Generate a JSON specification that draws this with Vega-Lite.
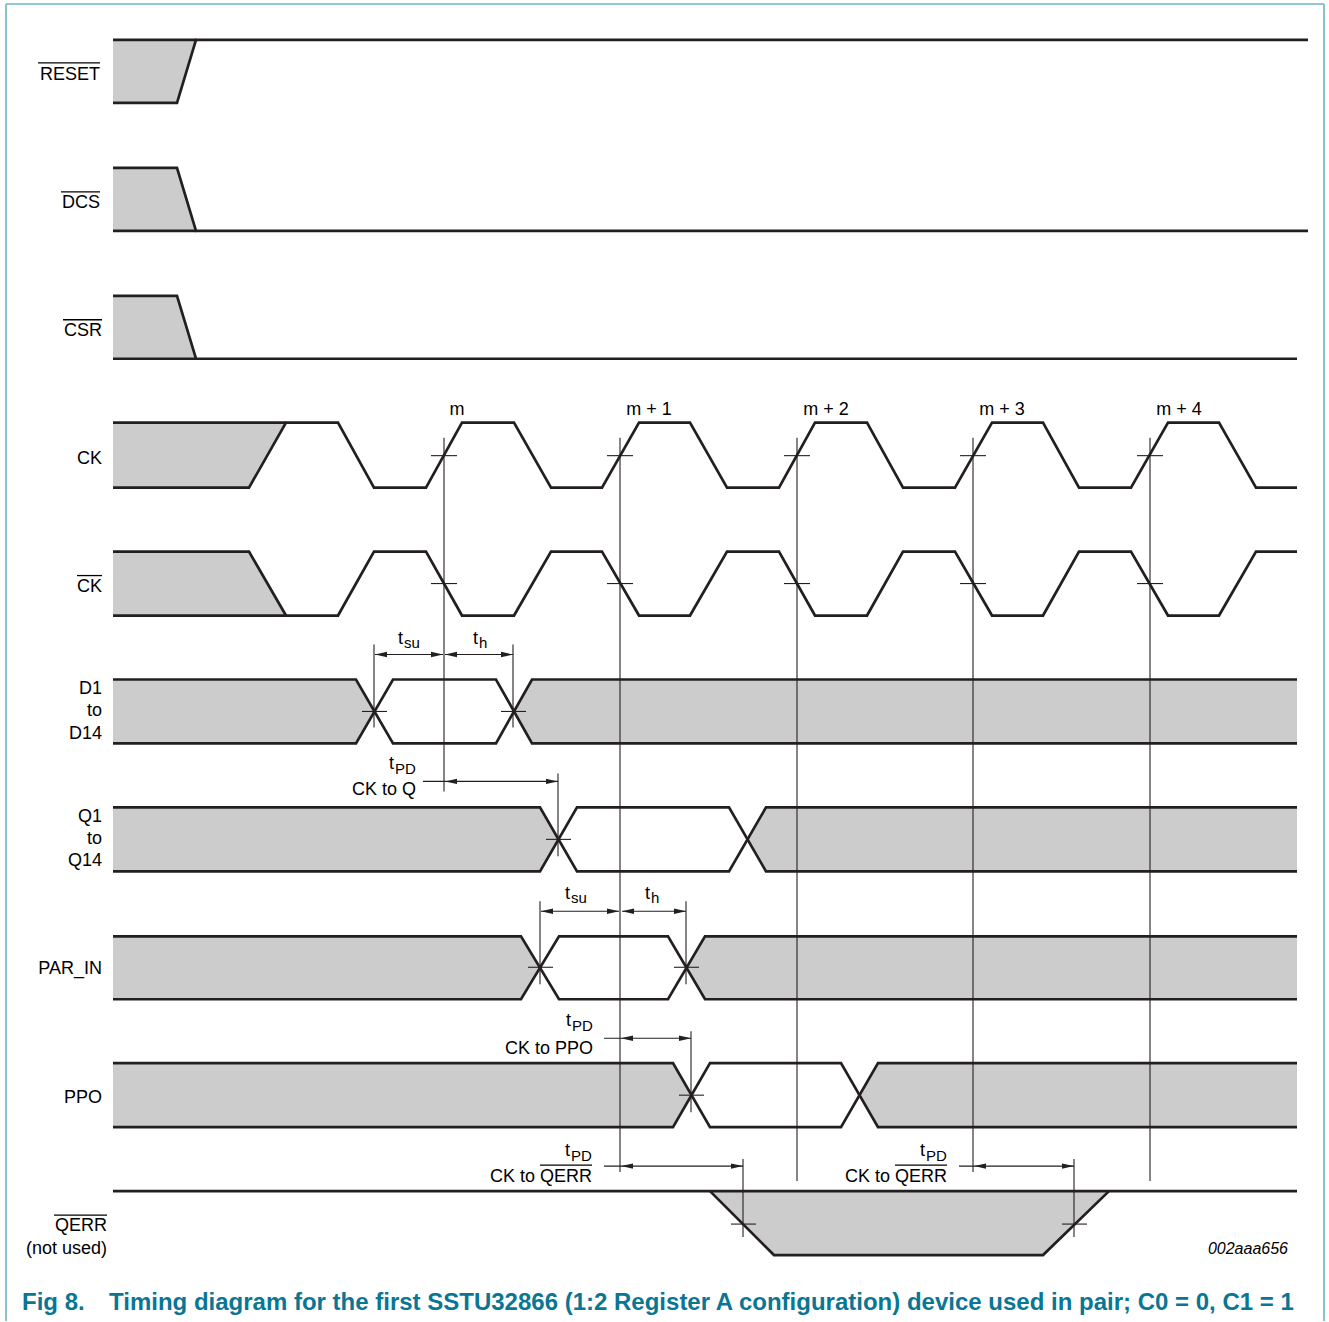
{
  "$schema": "https://vega.github.io/schema/vega-lite/v6.json",
  "width": 1329,
  "height": 1322,
  "padding": 0,
  "autosize": {"type": "fit", "contains": "padding"},
  "background": "white",
  "config": {"view": {"stroke": null}, "text": {"font": "Liberation Sans", "color": "#000000"}},
  "datasets": {
    "areas": [
      {"s": "reset", "x": 113, "y": 40, "y2": 103}, {"s": "reset", "x": 177, "y": 40, "y2": 103}, {"s": "reset", "x": 196, "y": 40, "y2": 40},
      {"s": "dcs", "x": 113, "y": 168, "y2": 231}, {"s": "dcs", "x": 177, "y": 168, "y2": 231}, {"s": "dcs", "x": 196, "y": 231, "y2": 231},
      {"s": "csr", "x": 113, "y": 296, "y2": 359}, {"s": "csr", "x": 177, "y": 296, "y2": 359}, {"s": "csr", "x": 196, "y": 359, "y2": 359},
      {"s": "ck", "x": 113, "y": 423, "y2": 488}, {"s": "ck", "x": 249, "y": 423, "y2": 488}, {"s": "ck", "x": 286, "y": 423, "y2": 423},
      {"s": "ckb", "x": 113, "y": 552, "y2": 616}, {"s": "ckb", "x": 249, "y": 552, "y2": 616}, {"s": "ckb", "x": 286, "y": 616, "y2": 616},
      {"s": "d1", "x": 113, "y": 680, "y2": 744}, {"s": "d1", "x": 356, "y": 680, "y2": 744}, {"s": "d1", "x": 374, "y": 712, "y2": 712},
      {"s": "d2", "x": 513, "y": 712, "y2": 712}, {"s": "d2", "x": 532, "y": 680, "y2": 744}, {"s": "d2", "x": 1297, "y": 680, "y2": 744},
      {"s": "q1", "x": 113, "y": 808, "y2": 872}, {"s": "q1", "x": 540, "y": 808, "y2": 872}, {"s": "q1", "x": 558, "y": 840, "y2": 840},
      {"s": "q2", "x": 748, "y": 840, "y2": 840}, {"s": "q2", "x": 766, "y": 808, "y2": 872}, {"s": "q2", "x": 1297, "y": 808, "y2": 872},
      {"s": "p1", "x": 113, "y": 937, "y2": 1000}, {"s": "p1", "x": 521, "y": 937, "y2": 1000}, {"s": "p1", "x": 540, "y": 968, "y2": 968},
      {"s": "p2", "x": 686, "y": 968, "y2": 968}, {"s": "p2", "x": 705, "y": 937, "y2": 1000}, {"s": "p2", "x": 1297, "y": 937, "y2": 1000},
      {"s": "o1", "x": 113, "y": 1064, "y2": 1128}, {"s": "o1", "x": 673, "y": 1064, "y2": 1128}, {"s": "o1", "x": 691, "y": 1096, "y2": 1096},
      {"s": "o2", "x": 859, "y": 1096, "y2": 1096}, {"s": "o2", "x": 878, "y": 1064, "y2": 1128}, {"s": "o2", "x": 1297, "y": 1064, "y2": 1128},
      {"s": "qerr", "x": 710, "y": 1192, "y2": 1192}, {"s": "qerr", "x": 774, "y": 1192, "y2": 1256}, {"s": "qerr", "x": 1043, "y": 1192, "y2": 1256}, {"s": "qerr", "x": 1109, "y": 1192, "y2": 1192}
    ],
    "waves": [
      {"s": "reset_a", "i": 0, "x": 113, "y": 103}, {"s": "reset_a", "i": 1, "x": 177, "y": 103}, {"s": "reset_a", "i": 2, "x": 196, "y": 40}, {"s": "reset_a", "i": 3, "x": 1308, "y": 40},
      {"s": "reset_b", "i": 0, "x": 113, "y": 40}, {"s": "reset_b", "i": 1, "x": 196, "y": 40},
      {"s": "dcs_a", "i": 0, "x": 113, "y": 168}, {"s": "dcs_a", "i": 1, "x": 177, "y": 168}, {"s": "dcs_a", "i": 2, "x": 196, "y": 231}, {"s": "dcs_a", "i": 3, "x": 1308, "y": 231},
      {"s": "dcs_b", "i": 0, "x": 113, "y": 231}, {"s": "dcs_b", "i": 1, "x": 196, "y": 231},
      {"s": "csr_a", "i": 0, "x": 113, "y": 296}, {"s": "csr_a", "i": 1, "x": 177, "y": 296}, {"s": "csr_a", "i": 2, "x": 196, "y": 359}, {"s": "csr_a", "i": 3, "x": 1297, "y": 359},
      {"s": "csr_b", "i": 0, "x": 113, "y": 359}, {"s": "csr_b", "i": 1, "x": 196, "y": 359},
      {"s": "ck_a", "i": 0, "x": 113, "y": 488}, {"s": "ck_a", "i": 1, "x": 249, "y": 488}, {"s": "ck_a", "i": 2, "x": 286, "y": 423}, {"s": "ck_a", "i": 3, "x": 338, "y": 423},
      {"s": "ck_a", "i": 4, "x": 374, "y": 488}, {"s": "ck_a", "i": 5, "x": 426, "y": 488}, {"s": "ck_a", "i": 6, "x": 462, "y": 423}, {"s": "ck_a", "i": 7, "x": 514, "y": 423},
      {"s": "ck_a", "i": 8, "x": 551, "y": 488}, {"s": "ck_a", "i": 9, "x": 602, "y": 488}, {"s": "ck_a", "i": 10, "x": 639, "y": 423}, {"s": "ck_a", "i": 11, "x": 690, "y": 423},
      {"s": "ck_a", "i": 12, "x": 727, "y": 488}, {"s": "ck_a", "i": 13, "x": 779, "y": 488}, {"s": "ck_a", "i": 14, "x": 815, "y": 423}, {"s": "ck_a", "i": 15, "x": 867, "y": 423},
      {"s": "ck_a", "i": 16, "x": 903, "y": 488}, {"s": "ck_a", "i": 17, "x": 955, "y": 488}, {"s": "ck_a", "i": 18, "x": 992, "y": 423}, {"s": "ck_a", "i": 19, "x": 1043, "y": 423},
      {"s": "ck_a", "i": 20, "x": 1079, "y": 488}, {"s": "ck_a", "i": 21, "x": 1131, "y": 488}, {"s": "ck_a", "i": 22, "x": 1168, "y": 423}, {"s": "ck_a", "i": 23, "x": 1219, "y": 423},
      {"s": "ck_a", "i": 24, "x": 1256, "y": 488}, {"s": "ck_a", "i": 25, "x": 1297, "y": 488},
      {"s": "ck_b", "i": 0, "x": 113, "y": 423}, {"s": "ck_b", "i": 1, "x": 286, "y": 423},
      {"s": "ckb_a", "i": 0, "x": 113, "y": 552}, {"s": "ckb_a", "i": 1, "x": 249, "y": 552}, {"s": "ckb_a", "i": 2, "x": 286, "y": 616}, {"s": "ckb_a", "i": 3, "x": 338, "y": 616},
      {"s": "ckb_a", "i": 4, "x": 374, "y": 552}, {"s": "ckb_a", "i": 5, "x": 426, "y": 552}, {"s": "ckb_a", "i": 6, "x": 462, "y": 616}, {"s": "ckb_a", "i": 7, "x": 514, "y": 616},
      {"s": "ckb_a", "i": 8, "x": 551, "y": 552}, {"s": "ckb_a", "i": 9, "x": 602, "y": 552}, {"s": "ckb_a", "i": 10, "x": 639, "y": 616}, {"s": "ckb_a", "i": 11, "x": 690, "y": 616},
      {"s": "ckb_a", "i": 12, "x": 727, "y": 552}, {"s": "ckb_a", "i": 13, "x": 779, "y": 552}, {"s": "ckb_a", "i": 14, "x": 815, "y": 616}, {"s": "ckb_a", "i": 15, "x": 867, "y": 616},
      {"s": "ckb_a", "i": 16, "x": 903, "y": 552}, {"s": "ckb_a", "i": 17, "x": 955, "y": 552}, {"s": "ckb_a", "i": 18, "x": 992, "y": 616}, {"s": "ckb_a", "i": 19, "x": 1043, "y": 616},
      {"s": "ckb_a", "i": 20, "x": 1079, "y": 552}, {"s": "ckb_a", "i": 21, "x": 1131, "y": 552}, {"s": "ckb_a", "i": 22, "x": 1168, "y": 616}, {"s": "ckb_a", "i": 23, "x": 1219, "y": 616},
      {"s": "ckb_a", "i": 24, "x": 1256, "y": 552}, {"s": "ckb_a", "i": 25, "x": 1297, "y": 552},
      {"s": "ckb_b", "i": 0, "x": 113, "y": 616}, {"s": "ckb_b", "i": 1, "x": 286, "y": 616},
      {"s": "d_a", "i": 0, "x": 113, "y": 680}, {"s": "d_a", "i": 1, "x": 356, "y": 680}, {"s": "d_a", "i": 2, "x": 393, "y": 744}, {"s": "d_a", "i": 3, "x": 496, "y": 744}, {"s": "d_a", "i": 4, "x": 532, "y": 680}, {"s": "d_a", "i": 5, "x": 1297, "y": 680},
      {"s": "d_b", "i": 0, "x": 113, "y": 744}, {"s": "d_b", "i": 1, "x": 356, "y": 744}, {"s": "d_b", "i": 2, "x": 393, "y": 680}, {"s": "d_b", "i": 3, "x": 496, "y": 680}, {"s": "d_b", "i": 4, "x": 532, "y": 744}, {"s": "d_b", "i": 5, "x": 1297, "y": 744},
      {"s": "q_a", "i": 0, "x": 113, "y": 808}, {"s": "q_a", "i": 1, "x": 540, "y": 808}, {"s": "q_a", "i": 2, "x": 577, "y": 872}, {"s": "q_a", "i": 3, "x": 729, "y": 872}, {"s": "q_a", "i": 4, "x": 766, "y": 808}, {"s": "q_a", "i": 5, "x": 1297, "y": 808},
      {"s": "q_b", "i": 0, "x": 113, "y": 872}, {"s": "q_b", "i": 1, "x": 540, "y": 872}, {"s": "q_b", "i": 2, "x": 577, "y": 808}, {"s": "q_b", "i": 3, "x": 729, "y": 808}, {"s": "q_b", "i": 4, "x": 766, "y": 872}, {"s": "q_b", "i": 5, "x": 1297, "y": 872},
      {"s": "p_a", "i": 0, "x": 113, "y": 937}, {"s": "p_a", "i": 1, "x": 521, "y": 937}, {"s": "p_a", "i": 2, "x": 559, "y": 1000}, {"s": "p_a", "i": 3, "x": 668, "y": 1000}, {"s": "p_a", "i": 4, "x": 705, "y": 937}, {"s": "p_a", "i": 5, "x": 1297, "y": 937},
      {"s": "p_b", "i": 0, "x": 113, "y": 1000}, {"s": "p_b", "i": 1, "x": 521, "y": 1000}, {"s": "p_b", "i": 2, "x": 559, "y": 937}, {"s": "p_b", "i": 3, "x": 668, "y": 937}, {"s": "p_b", "i": 4, "x": 705, "y": 1000}, {"s": "p_b", "i": 5, "x": 1297, "y": 1000},
      {"s": "o_a", "i": 0, "x": 113, "y": 1064}, {"s": "o_a", "i": 1, "x": 673, "y": 1064}, {"s": "o_a", "i": 2, "x": 710, "y": 1128}, {"s": "o_a", "i": 3, "x": 841, "y": 1128}, {"s": "o_a", "i": 4, "x": 878, "y": 1064}, {"s": "o_a", "i": 5, "x": 1297, "y": 1064},
      {"s": "o_b", "i": 0, "x": 113, "y": 1128}, {"s": "o_b", "i": 1, "x": 673, "y": 1128}, {"s": "o_b", "i": 2, "x": 710, "y": 1064}, {"s": "o_b", "i": 3, "x": 841, "y": 1064}, {"s": "o_b", "i": 4, "x": 878, "y": 1128}, {"s": "o_b", "i": 5, "x": 1297, "y": 1128},
      {"s": "qerr_a", "i": 0, "x": 113, "y": 1192}, {"s": "qerr_a", "i": 1, "x": 1297, "y": 1192},
      {"s": "qerr_b", "i": 0, "x": 710, "y": 1192}, {"s": "qerr_b", "i": 1, "x": 774, "y": 1256}, {"s": "qerr_b", "i": 2, "x": 1043, "y": 1256}, {"s": "qerr_b", "i": 3, "x": 1109, "y": 1192}
    ],
    "rules": [
      {"k": "frame", "x": 6, "y": 4, "x2": 1324, "y2": 4},
      {"k": "frame", "x": 6, "y": 4, "x2": 6, "y2": 1322},
      {"k": "frame", "x": 1324, "y": 4, "x2": 1324, "y2": 1322},
      {"k": "edge", "x": 444, "y": 438, "x2": 444, "y2": 792},
      {"k": "edge", "x": 620, "y": 438, "x2": 620, "y2": 1173},
      {"k": "edge", "x": 797, "y": 438, "x2": 797, "y2": 1182},
      {"k": "edge", "x": 973, "y": 438, "x2": 973, "y2": 1173},
      {"k": "edge", "x": 1150, "y": 438, "x2": 1150, "y2": 1182},
      {"k": "tick", "x": 431, "y": 456, "x2": 457, "y2": 456},
      {"k": "tick", "x": 607, "y": 456, "x2": 633, "y2": 456},
      {"k": "tick", "x": 784, "y": 456, "x2": 810, "y2": 456},
      {"k": "tick", "x": 960, "y": 456, "x2": 986, "y2": 456},
      {"k": "tick", "x": 1137, "y": 456, "x2": 1163, "y2": 456},
      {"k": "tick", "x": 431, "y": 584, "x2": 457, "y2": 584},
      {"k": "tick", "x": 607, "y": 584, "x2": 633, "y2": 584},
      {"k": "tick", "x": 784, "y": 584, "x2": 810, "y2": 584},
      {"k": "tick", "x": 960, "y": 584, "x2": 986, "y2": 584},
      {"k": "tick", "x": 1137, "y": 584, "x2": 1163, "y2": 584},
      {"k": "tick", "x": 362, "y": 712, "x2": 387, "y2": 712},
      {"k": "tick", "x": 501, "y": 712, "x2": 526, "y2": 712},
      {"k": "tick", "x": 546, "y": 840, "x2": 571, "y2": 840},
      {"k": "tick", "x": 528, "y": 968, "x2": 553, "y2": 968},
      {"k": "tick", "x": 674, "y": 968, "x2": 699, "y2": 968},
      {"k": "tick", "x": 679, "y": 1096, "x2": 704, "y2": 1096},
      {"k": "tick", "x": 731, "y": 1225, "x2": 756, "y2": 1225},
      {"k": "tick", "x": 1062, "y": 1225, "x2": 1087, "y2": 1225},
      {"k": "tick", "x": 374, "y": 645, "x2": 374, "y2": 728},
      {"k": "tick", "x": 513, "y": 645, "x2": 513, "y2": 728},
      {"k": "tick", "x": 558, "y": 774, "x2": 558, "y2": 857},
      {"k": "tick", "x": 540, "y": 902, "x2": 540, "y2": 985},
      {"k": "tick", "x": 686, "y": 902, "x2": 686, "y2": 985},
      {"k": "tick", "x": 691, "y": 1032, "x2": 691, "y2": 1113},
      {"k": "tick", "x": 743, "y": 1160, "x2": 743, "y2": 1238},
      {"k": "tick", "x": 1074, "y": 1160, "x2": 1074, "y2": 1238},
      {"k": "tick", "x": 375, "y": 655, "x2": 443, "y2": 655},
      {"k": "tick", "x": 445, "y": 655, "x2": 513, "y2": 655},
      {"k": "tick", "x": 423, "y": 782, "x2": 558, "y2": 782},
      {"k": "tick", "x": 541, "y": 912, "x2": 619, "y2": 912},
      {"k": "tick", "x": 622, "y": 912, "x2": 686, "y2": 912},
      {"k": "tick", "x": 604, "y": 1039, "x2": 691, "y2": 1039},
      {"k": "tick", "x": 604, "y": 1167, "x2": 743, "y2": 1167},
      {"k": "tick", "x": 959, "y": 1167, "x2": 1074, "y2": 1167},
      {"k": "bar", "x": 38, "y": 63, "x2": 100, "y2": 63},
      {"k": "bar", "x": 61, "y": 192, "x2": 100, "y2": 192},
      {"k": "bar", "x": 63, "y": 320, "x2": 102, "y2": 320},
      {"k": "bar", "x": 77, "y": 576, "x2": 102, "y2": 576},
      {"k": "bar", "x": 54, "y": 1216, "x2": 107, "y2": 1216},
      {"k": "bar", "x": 540, "y": 1166, "x2": 592, "y2": 1166},
      {"k": "bar", "x": 895, "y": 1166, "x2": 947, "y2": 1166}
    ],
    "heads": [
      {"x": 375, "y": 655, "dir": "left"}, {"x": 443, "y": 655, "dir": "right"},
      {"x": 445, "y": 655, "dir": "left"}, {"x": 513, "y": 655, "dir": "right"},
      {"x": 445, "y": 782, "dir": "left"}, {"x": 558, "y": 782, "dir": "right"},
      {"x": 541, "y": 912, "dir": "left"}, {"x": 619, "y": 912, "dir": "right"},
      {"x": 622, "y": 912, "dir": "left"}, {"x": 686, "y": 912, "dir": "right"},
      {"x": 621, "y": 1039, "dir": "left"}, {"x": 691, "y": 1039, "dir": "right"},
      {"x": 621, "y": 1167, "dir": "left"}, {"x": 743, "y": 1167, "dir": "right"},
      {"x": 974, "y": 1167, "dir": "left"}, {"x": 1074, "y": 1167, "dir": "right"}
    ],
    "texts": [
      {"r": "name", "t": "RESET", "x": 100, "y": 80},
      {"r": "name", "t": "DCS", "x": 100, "y": 208},
      {"r": "name", "t": "CSR", "x": 102, "y": 336},
      {"r": "name", "t": "CK", "x": 102, "y": 464},
      {"r": "name", "t": "CK", "x": 102, "y": 592},
      {"r": "name", "t": "D1", "x": 102, "y": 695},
      {"r": "name", "t": "to", "x": 102, "y": 717},
      {"r": "name", "t": "D14", "x": 102, "y": 740},
      {"r": "name", "t": "Q1", "x": 102, "y": 823},
      {"r": "name", "t": "to", "x": 102, "y": 845},
      {"r": "name", "t": "Q14", "x": 102, "y": 867},
      {"r": "name", "t": "PAR_IN", "x": 102, "y": 975},
      {"r": "name", "t": "PPO", "x": 102, "y": 1104},
      {"r": "name", "t": "QERR", "x": 107, "y": 1232},
      {"r": "name", "t": "(not used)", "x": 107, "y": 1255},
      {"r": "name", "t": "CK to Q", "x": 416, "y": 796},
      {"r": "name", "t": "CK to PPO", "x": 593, "y": 1055},
      {"r": "name", "t": "CK to QERR", "x": 592, "y": 1183},
      {"r": "name", "t": "CK to QERR", "x": 947, "y": 1183},
      {"r": "edge", "t": "m", "x": 457, "y": 415},
      {"r": "edge", "t": "m + 1", "x": 649, "y": 415},
      {"r": "edge", "t": "m + 2", "x": 826, "y": 415},
      {"r": "edge", "t": "m + 3", "x": 1002, "y": 415},
      {"r": "edge", "t": "m + 4", "x": 1179, "y": 415},
      {"r": "t", "t": "t", "x": 398, "y": 644},
      {"r": "sub", "t": "su", "x": 404, "y": 648},
      {"r": "t", "t": "t", "x": 473, "y": 644},
      {"r": "sub", "t": "h", "x": 479, "y": 648},
      {"r": "t", "t": "t", "x": 389, "y": 770},
      {"r": "sub", "t": "PD", "x": 395, "y": 775},
      {"r": "t", "t": "t", "x": 565, "y": 900},
      {"r": "sub", "t": "su", "x": 571, "y": 904},
      {"r": "t", "t": "t", "x": 645, "y": 900},
      {"r": "sub", "t": "h", "x": 651, "y": 904},
      {"r": "t", "t": "t", "x": 566, "y": 1027},
      {"r": "sub", "t": "PD", "x": 572, "y": 1032},
      {"r": "t", "t": "t", "x": 565, "y": 1157},
      {"r": "sub", "t": "PD", "x": 571, "y": 1162},
      {"r": "t", "t": "t", "x": 920, "y": 1157},
      {"r": "sub", "t": "PD", "x": 926, "y": 1162},
      {"r": "id", "t": "002aaa656", "x": 1288, "y": 1255},
      {"r": "cap", "t": "Fig 8.", "x": 22, "y": 1311},
      {"r": "cap", "t": "Timing diagram for the first SSTU32866 (1:2 Register A configuration) device used in pair; C0 = 0, C1 = 1", "x": 109, "y": 1311}
    ]
  },
  "encoding": {
    "x": {"field": "x", "type": "quantitative", "axis": null, "scale": {"domain": [0, 1329], "nice": false, "zero": false}},
    "y": {"field": "y", "type": "quantitative", "axis": null, "scale": {"domain": [0, 1322], "nice": false, "zero": false, "reverse": true}}
  },
  "layer": [
    {
      "data": {"name": "areas"},
      "mark": {"type": "area", "color": "#cccccc", "opacity": 1, "interpolate": "linear"},
      "encoding": {"y2": {"field": "y2"}, "detail": {"field": "s", "type": "nominal"}}
    },
    {
      "data": {"name": "rules"},
      "transform": [{"filter": "datum.k === 'edge' || datum.k === 'tick'"}],
      "mark": {"type": "rule", "color": "#231f20", "strokeWidth": 1.1},
      "encoding": {"x2": {"field": "x2"}, "y2": {"field": "y2"}}
    },
    {
      "data": {"name": "waves"},
      "mark": {"type": "line", "color": "#231f20", "strokeWidth": 2.7, "strokeJoin": "miter", "interpolate": "linear"},
      "encoding": {"detail": {"field": "s", "type": "nominal"}, "order": {"field": "i", "type": "quantitative"}}
    },
    {
      "data": {"name": "rules"},
      "transform": [{"filter": "datum.k === 'bar'"}],
      "mark": {"type": "rule", "color": "#000000", "strokeWidth": 1.3},
      "encoding": {"x2": {"field": "x2"}, "y2": {"field": "y2"}}
    },
    {
      "data": {"name": "rules"},
      "transform": [{"filter": "datum.k === 'frame'"}],
      "mark": {"type": "rule", "color": "#6fb3c3", "strokeWidth": 1.6},
      "encoding": {"x2": {"field": "x2"}, "y2": {"field": "y2"}}
    },
    {
      "data": {"name": "heads"},
      "mark": {"type": "point", "filled": true, "color": "#231f20", "opacity": 1, "size": 144, "strokeWidth": 0},
      "encoding": {
        "shape": {"field": "dir", "type": "nominal", "legend": null,
          "scale": {"domain": ["right", "left"], "range": ["M0,0L-2,-0.45L-2,0.45Z", "M0,0L2,-0.45L2,0.45Z"]}}
      }
    },
    {
      "data": {"name": "texts"},
      "transform": [{"filter": "datum.r === 'name'"}],
      "mark": {"type": "text", "align": "right", "baseline": "alphabetic", "fontSize": 18},
      "encoding": {"text": {"field": "t"}}
    },
    {
      "data": {"name": "texts"},
      "transform": [{"filter": "datum.r === 'edge'"}],
      "mark": {"type": "text", "align": "center", "baseline": "alphabetic", "fontSize": 18},
      "encoding": {"text": {"field": "t"}}
    },
    {
      "data": {"name": "texts"},
      "transform": [{"filter": "datum.r === 't'"}],
      "mark": {"type": "text", "align": "left", "baseline": "alphabetic", "fontSize": 18},
      "encoding": {"text": {"field": "t"}}
    },
    {
      "data": {"name": "texts"},
      "transform": [{"filter": "datum.r === 'sub'"}],
      "mark": {"type": "text", "align": "left", "baseline": "alphabetic", "fontSize": 15},
      "encoding": {"text": {"field": "t"}}
    },
    {
      "data": {"name": "texts"},
      "transform": [{"filter": "datum.r === 'id'"}],
      "mark": {"type": "text", "align": "right", "baseline": "alphabetic", "fontSize": 16, "fontStyle": "italic"},
      "encoding": {"text": {"field": "t"}}
    },
    {
      "data": {"name": "texts"},
      "transform": [{"filter": "datum.r === 'cap'"}],
      "mark": {"type": "text", "align": "left", "baseline": "alphabetic", "fontSize": 24, "fontWeight": "bold", "color": "#0a7694"},
      "encoding": {"text": {"field": "t"}}
    }
  ]
}
